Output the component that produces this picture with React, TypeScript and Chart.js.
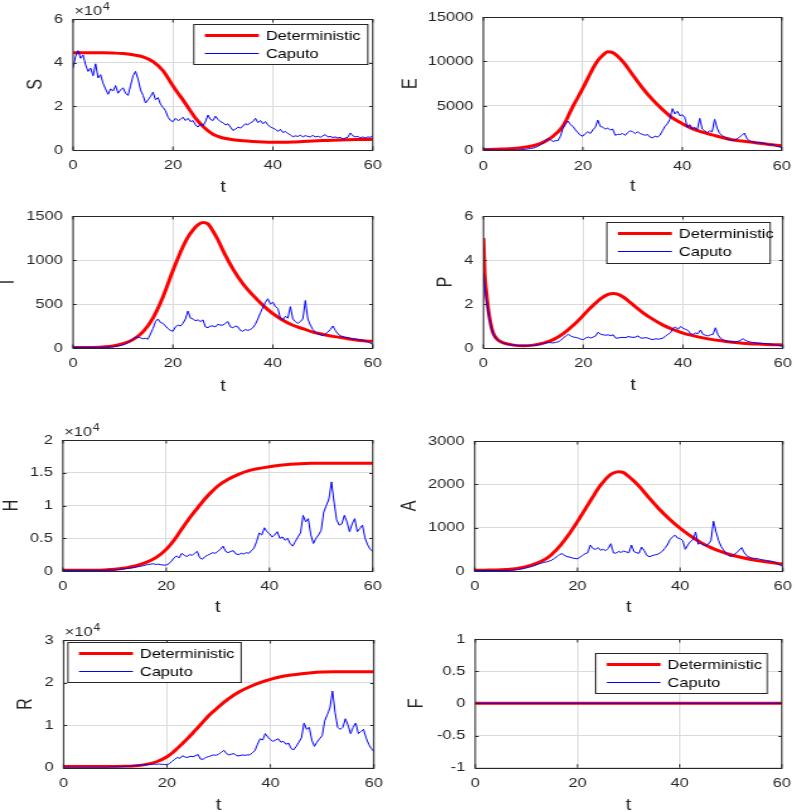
import React, { useEffect, useRef } from "react";
import { Chart, registerables } from "chart.js";

Chart.register(...registerables);

const SX = 1.26; // horizontal stretch of the reference picture
const FONT = "'Liberation Sans', Arial, Helvetica, sans-serif";
const INK = "#262626";
const RED = "#ff0000";
const BLUE = "#0000ff";
Chart.defaults.font.family = FONT;

// time points of the deterministic curves
const tDet = [0, 0.25, 0.5, 1, 1.5, 2, 3, 4, 6, 8, 10, 12, 14, 16, 18, 20, 21, 22, 23, 24, 25, 26, 27, 28, 29, 30, 32, 34, 36, 38, 40, 42, 44, 46, 48, 50, 52, 55, 58, 60];

// time points of the Caputo (stochastic) curves
const tCap = [
  0, 0.5, 1, 1.5, 2, 2.5, 3, 3.5, 4, 4.5,
  5, 5.5, 6, 6.5, 7, 7.5, 8, 8.5, 9, 9.5,
  10, 10.5, 11, 11.5, 12, 12.5, 13, 13.5, 14, 14.5,
  15, 15.5, 16, 16.5, 17, 17.5, 18, 18.5, 19, 19.5,
  20, 20.5, 21, 21.5, 22, 22.5, 23, 23.5, 24, 24.5,
  25, 25.5, 26, 26.5, 27, 27.5, 28, 28.5, 29, 29.5,
  30, 30.5, 31, 31.5, 32, 32.5, 33, 33.5, 34, 34.5,
  35, 35.5, 36, 36.5, 37, 37.5, 38, 38.5, 39, 39.5,
  40, 40.5, 41, 41.5, 42, 42.5, 43, 43.5, 44, 44.5,
  45, 45.5, 46, 46.5, 47, 47.5, 48, 48.5, 49, 49.5,
  50, 50.5, 51, 51.5, 52, 52.5, 53, 53.5, 54, 54.5,
  55, 55.5, 56, 56.5, 57, 57.5, 58, 58.5, 59, 59.5,
  60,
];

// S (x 10^4)
const sDet = [4.45, 4.45, 4.45, 4.45, 4.45, 4.45, 4.45, 4.45, 4.45, 4.44, 4.42, 4.36, 4.27, 4.05, 3.63, 2.93, 2.6, 2.29, 1.95, 1.62, 1.32, 1.08, 0.88, 0.72, 0.62, 0.55, 0.47, 0.42, 0.39, 0.37, 0.36, 0.36, 0.37, 0.39, 0.41, 0.43, 0.45, 0.47, 0.48, 0.49];
const sCap = [
  3.75, 4.3, 4.55, 4.2, 4.35, 3.9, 3.6, 3.75, 3.4, 3.95,
  3.3, 3.45, 3.05, 2.8, 2.55, 2.8, 2.7, 2.95, 2.6, 2.75,
  2.85, 2.6, 2.5, 2.95, 3.4, 3.6, 3.25, 2.75, 2.5, 2.15,
  2.3, 2.45, 2.65, 2.3, 2.4, 2.1, 1.95, 1.8, 1.5, 1.35,
  1.3, 1.45, 1.35, 1.4, 1.5, 1.35, 1.45, 1.3, 1.35, 1.15,
  1.05, 1.2, 1.1, 1.3, 1.6, 1.4, 1.35, 1.55, 1.4, 1.3,
  1.25, 1.15, 1.2, 1.05, 0.9, 0.95, 1.05, 1.0, 1.1, 1.2,
  1.15, 1.25, 1.3, 1.45, 1.25, 1.35, 1.2, 1.3, 1.15, 1.05,
  1.0, 0.95, 0.85, 0.95, 0.8, 0.85, 0.75, 0.7, 0.6, 0.65,
  0.62, 0.68, 0.6, 0.66, 0.62, 0.6, 0.67, 0.6, 0.63, 0.58,
  0.65, 0.7, 0.6, 0.62, 0.57, 0.6, 0.55, 0.58, 0.5, 0.55,
  0.58, 0.78, 0.65, 0.6, 0.62, 0.55, 0.6, 0.55, 0.6, 0.58,
  0.65,
];

// E
const eDet = [100, 100, 100, 100, 110, 120, 140, 160, 220, 330, 520, 900, 1600, 2750, 4950, 7000, 8100, 9200, 10100, 10700, 11100, 11000, 10600, 10000, 9300, 8500, 7000, 5700, 4600, 3650, 3000, 2450, 2050, 1750, 1450, 1200, 1050, 830, 640, 520];
const eCap = [
  80, 70, 60, 50, 50, 40, 40, 30, 30, 30,
  30, 40, 40, 50, 60, 80, 100, 130, 170, 220,
  250, 350, 450, 650, 800, 1100, 1350, 1200, 1000, 1100,
  1100, 1600, 2500, 3000, 3300, 2900, 2700, 2300, 2000, 1700,
  1600, 1900, 2100, 1900, 2300, 2600, 3400, 2700, 2600, 2400,
  2500, 2300, 2400, 1700, 1800, 1800, 1900, 1700, 2000, 2200,
  2100, 1900, 2100, 1900, 1800, 1700, 1800, 1500, 1400, 1600,
  1500, 1700, 2200, 2700, 3000, 3500, 4700, 4100, 4400, 3900,
  4000, 3700, 2600, 2900, 2400, 2600, 2300, 3600, 2400, 2200,
  2000, 2200, 2100, 3500, 2500, 1900, 1700, 1500, 1300, 1200,
  1100, 1200, 1300, 1500, 1700, 1950, 1300, 1100, 950, 950,
  850, 900, 800, 800, 700, 650, 700, 600, 450, 400,
  300,
];

// I
const iDet = [5, 5, 5, 5, 5, 5, 5, 6, 12, 23, 50, 95, 182, 340, 580, 880, 1020, 1150, 1260, 1340, 1400, 1425, 1410, 1330, 1230, 1110, 900, 730, 600, 485, 390, 315, 258, 220, 180, 155, 132, 106, 83, 76];
const iCap = [
  5, 5, 5, 5, 5, 5, 5, 5, 5, 5,
  6, 6, 8, 9, 10, 12, 14, 18, 22, 28,
  35, 45, 60, 80, 100, 120, 125, 115, 105, 110,
  100, 160, 220, 300, 330, 290, 280, 250, 220, 200,
  190, 240, 260, 250, 280, 330, 420, 340, 330, 310,
  320, 300, 320, 240, 230, 250, 250, 240, 270, 260,
  260, 280, 300, 240, 230, 250, 240, 200, 190, 210,
  200, 210, 230, 270, 330, 400, 460, 520, 560, 500,
  520, 470, 450, 340, 320, 360, 340, 470, 330, 300,
  280, 300, 330, 540, 330, 260, 210, 180, 160, 150,
  140, 160, 180, 210, 250, 200, 160, 140, 130, 120,
  120, 110, 100, 105, 95, 90, 90, 80, 70, 55,
  40,
];

// P
const pDet = [5.0, 3.4, 2.7, 1.7, 1.05, 0.65, 0.35, 0.23, 0.13, 0.1, 0.13, 0.22, 0.38, 0.65, 1.03, 1.48, 1.72, 1.94, 2.15, 2.32, 2.44, 2.48, 2.44, 2.32, 2.15, 1.96, 1.6, 1.3, 1.04, 0.84, 0.68, 0.56, 0.46, 0.38, 0.32, 0.26, 0.22, 0.18, 0.15, 0.14];
const pCap = [
  3.4, 2.3, 1.6, 1.0, 0.62, 0.45, 0.35, 0.28, 0.22, 0.19,
  0.16, 0.14, 0.13, 0.12, 0.11, 0.1, 0.1, 0.1, 0.1, 0.11,
  0.12, 0.13, 0.15, 0.18, 0.2, 0.23, 0.25, 0.24, 0.23, 0.26,
  0.28, 0.35, 0.45, 0.55, 0.62, 0.55, 0.5, 0.48, 0.45, 0.4,
  0.38, 0.45, 0.5, 0.45, 0.5, 0.55, 0.72, 0.62, 0.6, 0.58,
  0.6, 0.56, 0.6, 0.45, 0.45, 0.48, 0.48, 0.47, 0.52, 0.5,
  0.48, 0.5, 0.55, 0.45, 0.45, 0.47, 0.45, 0.4, 0.38, 0.42,
  0.4, 0.42, 0.45, 0.55, 0.62, 0.7, 0.9, 0.95, 0.85, 0.98,
  0.9, 0.85, 0.8, 0.65, 0.62, 0.68, 0.65, 0.82, 0.62, 0.58,
  0.55, 0.6, 0.62, 0.92, 0.6, 0.45, 0.38, 0.33, 0.3, 0.28,
  0.27, 0.28, 0.3, 0.35, 0.42, 0.35, 0.3, 0.27, 0.25, 0.24,
  0.22, 0.22, 0.2, 0.2, 0.19, 0.18, 0.17, 0.15, 0.12, 0.1,
  0.08,
];

// H (x 10^4)
const hDet = [0.01, 0.01, 0.01, 0.01, 0.01, 0.01, 0.01, 0.01, 0.012, 0.017, 0.025, 0.046, 0.076, 0.127, 0.203, 0.33, 0.42, 0.524, 0.64, 0.753, 0.86, 0.957, 1.055, 1.145, 1.225, 1.298, 1.4, 1.476, 1.532, 1.567, 1.593, 1.613, 1.629, 1.639, 1.644, 1.645, 1.645, 1.645, 1.645, 1.645];
const hCap = [
  0.01, 0.01, 0.01, 0.01, 0.01, 0.01, 0.01, 0.01, 0.01, 0.01,
  0.01, 0.01, 0.01, 0.01, 0.01, 0.01, 0.01, 0.01, 0.015, 0.015,
  0.015, 0.02, 0.025, 0.03, 0.035, 0.04, 0.045, 0.05, 0.055, 0.065,
  0.07, 0.08, 0.09, 0.1, 0.105, 0.11, 0.1, 0.105, 0.095, 0.09,
  0.09, 0.11, 0.15, 0.2, 0.23, 0.2, 0.27, 0.24, 0.22, 0.25,
  0.24, 0.27, 0.3, 0.2, 0.18, 0.22, 0.24, 0.26, 0.28, 0.27,
  0.3, 0.33, 0.38, 0.3, 0.28, 0.3, 0.31, 0.26, 0.25, 0.27,
  0.26, 0.28, 0.27, 0.31, 0.35, 0.45, 0.58, 0.55, 0.66, 0.6,
  0.57, 0.52, 0.55, 0.6, 0.5, 0.52, 0.47, 0.5, 0.42, 0.38,
  0.45, 0.52, 0.58, 0.85, 0.75, 0.8, 0.55, 0.42, 0.5, 0.55,
  0.62, 0.9, 1.0, 1.1, 1.36, 1.05, 0.78, 0.7, 0.72, 0.85,
  0.75, 0.6, 0.72, 0.8, 0.6, 0.65, 0.7, 0.5, 0.4, 0.33,
  0.3,
];

// A
const aDet = [20, 20, 20, 20, 20, 20, 22, 25, 35, 54, 100, 177, 290, 500, 790, 1140, 1330, 1520, 1710, 1900, 2050, 2180, 2260, 2290, 2270, 2180, 1960, 1680, 1420, 1190, 985, 810, 660, 540, 446, 370, 310, 240, 190, 160];
const aCap = [
  10, 10, 10, 10, 10, 10, 10, 10, 10, 10,
  10, 12, 14, 16, 18, 22, 28, 35, 45, 55,
  70, 85, 100, 120, 140, 165, 180, 200, 210, 230,
  250, 290, 330, 380, 400, 360, 330, 320, 300, 290,
  280, 320, 360, 400, 420, 600, 520, 500, 540, 480,
  500, 470, 520, 630, 420, 410, 450, 430, 460, 440,
  420, 600, 450, 420, 410, 550, 470, 360, 330, 350,
  370, 380, 410, 450, 520, 600, 720, 780, 830, 760,
  750, 700, 500, 600, 680, 720, 900, 620, 640, 600,
  580, 620, 700, 1150, 900, 700, 560, 480, 400, 350,
  340, 380, 420, 480, 540, 420, 350, 320, 300, 290,
  290, 270, 260, 250, 240, 230, 220, 200, 160, 130,
  110,
];

// R (x 10^4)
const rDet = [0.03, 0.03, 0.03, 0.03, 0.03, 0.03, 0.03, 0.03, 0.03, 0.03, 0.03, 0.032, 0.047, 0.078, 0.14, 0.258, 0.345, 0.454, 0.57, 0.689, 0.815, 0.948, 1.08, 1.214, 1.325, 1.433, 1.629, 1.785, 1.903, 1.997, 2.075, 2.138, 2.177, 2.208, 2.232, 2.247, 2.255, 2.255, 2.256, 2.256];
const rCap = [
  0.01, 0.01, 0.01, 0.01, 0.01, 0.01, 0.01, 0.01, 0.01, 0.01,
  0.01, 0.01, 0.01, 0.01, 0.01, 0.01, 0.01, 0.01, 0.015, 0.015,
  0.015, 0.02, 0.02, 0.025, 0.03, 0.035, 0.04, 0.045, 0.05, 0.055,
  0.06, 0.065, 0.07, 0.075, 0.08, 0.085, 0.08, 0.085, 0.08, 0.075,
  0.07, 0.1, 0.15, 0.2, 0.24, 0.22, 0.28, 0.25, 0.24, 0.27,
  0.26, 0.28, 0.31, 0.2, 0.2, 0.24, 0.26, 0.28, 0.3, 0.29,
  0.32, 0.36, 0.41, 0.33, 0.3, 0.32, 0.33, 0.28, 0.28, 0.3,
  0.29, 0.3, 0.3, 0.35, 0.4, 0.55, 0.68, 0.65, 0.8, 0.72,
  0.66, 0.62, 0.65, 0.68, 0.6, 0.62, 0.55, 0.58, 0.45, 0.42,
  0.5, 0.6, 0.7, 1.05, 0.9, 0.95, 0.65, 0.5, 0.6, 0.68,
  0.75, 1.1, 1.25, 1.4, 1.8, 1.3, 0.95, 0.9, 0.95, 1.15,
  1.0, 0.8, 0.95, 1.05, 0.8, 0.85, 0.9, 0.7, 0.55, 0.45,
  0.38,
];

// F
const tF = [0, 60];
const fDet = [0, 0];
const fCap = [0, 0];

const SERIES_NAMES = ["Deterministic", "Caputo"];

type Legend = { dx: number; dy: number; w: number; h: number };
type PanelCfg = {
  label: string;
  L: number; R: number; T: number; B: number; // plot area in page px
  ytx: number; xty: number; // title centres in page px
  yMin: number; yMax: number; yStep: number;
  exp?: string;
  legend?: Legend;
  tD: number[]; d: number[]; tC: number[]; c: number[];
};

const PANELS: PanelCfg[] = [
  { label: "S", L: 73.3, R: 376, T: 19, B: 150, ytx: 36.3, xty: 187.5, yMin: 0, yMax: 6, yStep: 2, exp: "4", legend: { dx: 120.7, dy: 5, w: 174, h: 40 }, tD: tDet, d: sDet, tC: tCap, c: sCap },
  { label: "E", L: 483.3, R: 785.7, T: 17.3, B: 150.7, ytx: 411, xty: 187, yMin: 0, yMax: 15000, yStep: 5000, tD: tDet, d: eDet, tC: tCap, c: eCap },
  { label: "I", L: 73.3, R: 376, T: 215.7, B: 347.7, ytx: 8.5, xty: 386, yMin: 0, yMax: 1500, yStep: 500, tD: tDet, d: iDet, tC: tCap, c: iCap },
  { label: "P", L: 483.3, R: 785.7, T: 215.7, B: 347.7, ytx: 446, xty: 385.5, yMin: 0, yMax: 6, yStep: 2, legend: { dx: 123.4, dy: 6, w: 163.3, h: 40.6 }, tD: tDet, d: pDet, tC: tCap, c: pCap },
  { label: "H", L: 63.3, R: 376.7, T: 440, B: 571, ytx: 12.5, xty: 607, yMin: 0, yMax: 2, yStep: 0.5, exp: "4", tD: tDet, d: hDet, tC: tCap, c: hCap },
  { label: "A", L: 475, R: 785.7, T: 441, B: 571, ytx: 410.5, xty: 607, yMin: 0, yMax: 3000, yStep: 1000, tD: tDet, d: aDet, tC: tCap, c: aCap },
  { label: "R", L: 63.3, R: 376.7, T: 640, B: 767.7, ytx: 25.8, xty: 805, yMin: 0, yMax: 3, yStep: 1, exp: "4", legend: { dx: 4.4, dy: 2.3, w: 173.3, h: 40.3 }, tD: tDet, d: rDet, tC: tCap, c: rCap },
  { label: "F", L: 475, R: 785.7, T: 639, B: 767.7, ytx: 416.7, xty: 805, yMin: -1, yMax: 1, yStep: 0.5, legend: { dx: 120.7, dy: 13.7, w: 172, h: 40 }, tD: tF, d: fDet, tC: tF, c: fCap },
];

const TOP_PAD = 18;
const TITLE_SIZE = 16;
const TITLE_LH = TITLE_SIZE * 1.2;

function Panel({ cfg }: { cfg: PanelCfg }) {
  const ref = useRef<HTMLCanvasElement>(null);
  const CL = cfg.ytx - (SX * TITLE_LH) / 2;
  const yW = (cfg.L - CL) / SX;
  const plotW = (cfg.R - cfg.L) / SX;
  const wU = Math.ceil(yW + plotW + 12);
  const rightPad = wU - yW - plotW;
  const CT = cfg.T - TOP_PAD;
  const CB = cfg.xty + TITLE_LH / 2;
  const hU = Math.round(CB - CT);
  const xH = hU - TOP_PAD - (cfg.B - cfg.T);

  useEffect(() => {
    const canvas = ref.current!;
    const axesPlugin = {
      id: "matlabAxes",
      afterDraw(chart: any) {
        const { ctx, chartArea: a, scales } = chart;
        ctx.save();
        // inward tick marks
        ctx.strokeStyle = INK;
        ctx.lineWidth = 1;
        ctx.beginPath();
        const tl = 3.5;
        scales.x.ticks.forEach((t: any) => {
          const px = scales.x.getPixelForValue(t.value);
          ctx.moveTo(px, a.bottom);
          ctx.lineTo(px, a.bottom - tl);
          ctx.moveTo(px, a.top);
          ctx.lineTo(px, a.top + tl);
        });
        scales.y.ticks.forEach((t: any) => {
          const py = Math.round(scales.y.getPixelForValue(t.value)) + 0.5;
          ctx.moveTo(a.left, py);
          ctx.lineTo(a.left + tl / SX, py);
          ctx.moveTo(a.right, py);
          ctx.lineTo(a.right - tl / SX, py);
        });
        ctx.stroke();
        // box
        ctx.strokeRect(a.left, Math.round(a.top) + 0.5, a.right - a.left, Math.round(a.bottom) - Math.round(a.top));
        // exponent
        if (cfg.exp) {
          ctx.fillStyle = INK;
          ctx.textAlign = "left";
          ctx.textBaseline = "alphabetic";
          ctx.font = `13px ${FONT}`;
          ctx.fillText("×10", a.left + 1, a.top - 4);
          const w = ctx.measureText("×10").width;
          ctx.font = `10px ${FONT}`;
          ctx.fillText(cfg.exp, a.left + 1 + w + 0.5, a.top - 9);
        }
        // legend
        if (cfg.legend) {
          const lg = cfg.legend;
          const x0 = a.left + lg.dx / SX;
          const y0 = Math.round(a.top + lg.dy) + 0.5;
          const w = lg.w / SX;
          const h = Math.round(lg.h);
          ctx.fillStyle = "#ffffff";
          ctx.fillRect(x0, y0, w, h);
          ctx.strokeStyle = INK;
          ctx.lineWidth = 1;
          ctx.strokeRect(x0, y0, w, h);
          const rowY = [11, 29];
          chart.data.datasets
            .slice()
            .sort((p: any, q: any) => q.order - p.order)
            .forEach((ds: any, i: number) => {
              const yy = y0 + rowY[i];
              ctx.strokeStyle = ds.borderColor;
              ctx.lineWidth = ds.borderWidth;
              ctx.beginPath();
              ctx.moveTo(x0 + 11 / SX, yy);
              ctx.lineTo(x0 + 65 / SX, yy);
              ctx.stroke();
              ctx.fillStyle = "#000000";
              ctx.font = `13px ${FONT}`;
              ctx.textAlign = "left";
              ctx.textBaseline = "middle";
              ctx.fillText(ds.label, x0 + 72 / SX, yy + 0.5);
            });
        }
        ctx.restore();
      },
    };

    const tickFont = { family: FONT, size: 13 };
    const chart = new Chart(canvas, {
      type: "line",
      data: {
        datasets: [
          {
            label: SERIES_NAMES[0],
            data: cfg.tD.map((t, i) => ({ x: t, y: cfg.d[i] })),
            borderColor: RED,
            borderWidth: 3,
            pointRadius: 0,
            cubicInterpolationMode: "monotone",
            order: 1,
          },
          {
            label: SERIES_NAMES[1],
            data: cfg.tC.map((t, i) => ({ x: t, y: cfg.c[i] })),
            borderColor: BLUE,
            borderWidth: 1,
            pointRadius: 0,
            tension: 0,
            order: 0,
          },
        ],
      },
      options: {
        animation: false,
        responsive: false,
        devicePixelRatio: 1,
        events: [],
        layout: { padding: { left: 0, top: TOP_PAD, right: rightPad, bottom: 0 } },
        plugins: { legend: { display: false }, tooltip: { enabled: false } },
        scales: {
          x: {
            type: "linear",
            min: 0,
            max: 60,
            ticks: { stepSize: 20, padding: 8, color: INK, font: tickFont, maxRotation: 0, autoSkip: false, callback: (v: any) => `${v}` },
            grid: { color: "#dadada", drawTicks: false, lineWidth: 1 },
            border: { display: false },
            title: { display: true, text: "t", color: INK, font: { family: FONT, size: TITLE_SIZE }, padding: 0 },
            afterFit: (s: any) => {
              s.height = xH;
            },
          },
          y: {
            type: "linear",
            min: cfg.yMin,
            max: cfg.yMax,
            ticks: { stepSize: cfg.yStep, padding: 8, color: INK, font: tickFont, autoSkip: false, callback: (v: any) => `${v}` },
            grid: { color: "#dadada", drawTicks: false, lineWidth: 1 },
            border: { display: false },
            title: { display: true, text: cfg.label, color: INK, font: { family: FONT, size: TITLE_SIZE }, padding: 0 },
            afterFit: (s: any) => {
              s.width = yW;
            },
          },
        },
      } as any,
      plugins: [axesPlugin],
    });
    return () => chart.destroy();
  }, []);

  return (
    <canvas
      ref={ref}
      width={wU}
      height={hU}
      style={{ position: "absolute", left: CL, top: CT, width: wU * SX, height: hU }}
    />
  );
}

export default function App() {
  return (
    <div style={{ position: "absolute", left: 0, top: 0, width: 796, height: 812, overflow: "hidden", background: "#ffffff" }}>
      {PANELS.map((p) => (
        <Panel key={p.label} cfg={p} />
      ))}
    </div>
  );
}
